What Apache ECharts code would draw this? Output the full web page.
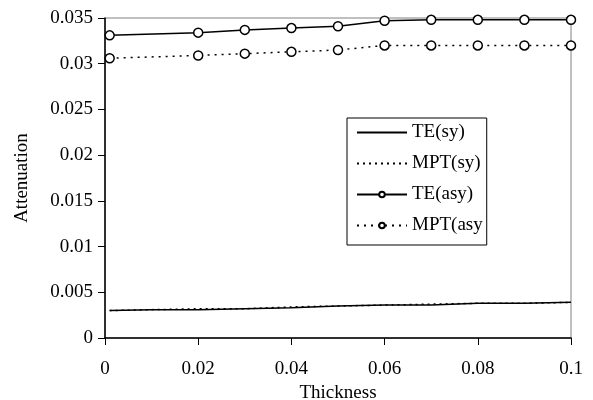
<!DOCTYPE html>
<html>
<head>
<meta charset="utf-8">
<script src="https://cdn.jsdelivr.net/npm/echarts@6/dist/echarts.min.js"></script>
<style>html,body{margin:0;padding:0;background:#fff}#c{width:593px;height:400px}</style>
</head>
<body>
<div id="c"></div>
<script>
var xSym = [0.001, 0.01, 0.02, 0.03, 0.04, 0.05, 0.06, 0.07, 0.08, 0.09, 0.1];
var teSy = [0.0030, 0.0031, 0.0031, 0.0032, 0.0033, 0.0035, 0.0036, 0.0036, 0.0038, 0.0038, 0.0039];
var mptSy = [0.0030, 0.0031, 0.0032, 0.0032, 0.0034, 0.0035, 0.0036, 0.0037, 0.0038, 0.0038, 0.0039];
var xAsy = [0.001, 0.02, 0.03, 0.04, 0.05, 0.06, 0.07, 0.08, 0.09, 0.1];
var teAsy = [0.0331, 0.0334, 0.0337, 0.0339, 0.0341, 0.0347, 0.0348, 0.0348, 0.0348, 0.0348];
var mptAsy = [0.0306, 0.0309, 0.0311, 0.0313, 0.0315, 0.0320, 0.0320, 0.0320, 0.0320, 0.0320];
var names = ['TE(sy)', 'MPT(sy)', 'TE(asy)', 'MPT(asy'];

function pairs(xs, ys) { return xs.map(function (x, i) { return [x, ys[i]]; }); }
var font = 'Liberation Serif, Times New Roman, serif';
var fs = 19;
var chart = echarts.init(document.getElementById('c'));
var lineBase = { type: 'line', animation: false };
var hiddenSym = { color: 'rgba(0,0,0,0)', borderColor: 'rgba(0,0,0,0)', borderWidth: 0 };
chart.setOption({
  animation: false,
  grid: { left: 105, right: 22, top: 18, bottom: 62, outerBoundsMode: 'none', containLabel: false, show: true, borderColor: '#808080', borderWidth: 1, backgroundColor: '#fff' },
  xAxis: {
    type: 'value', min: 0, max: 0.1, interval: 0.02,
    name: 'Thickness', nameLocation: 'middle', nameGap: 42,
    nameTextStyle: { fontFamily: font, fontSize: fs, color: '#000' },
    axisLine: { onZero: false, lineStyle: { color: '#000', width: 1.5 } },
    axisTick: { show: true, length: 7, lineStyle: { color: '#000' } },
    axisLabel: { fontFamily: font, fontSize: fs, color: '#000', margin: 22 },
    splitLine: { show: false }
  },
  yAxis: {
    type: 'value', min: 0, max: 0.035, interval: 0.005,
    name: 'Attenuation', nameLocation: 'middle', nameGap: 73,
    nameTextStyle: { fontFamily: font, fontSize: fs, color: '#000' },
    axisLine: { show: true, onZero: false, lineStyle: { color: '#000', width: 1.5 } },
    axisTick: { show: true, length: 7, lineStyle: { color: '#000' } },
    axisLabel: { fontFamily: font, fontSize: fs, color: '#000', margin: 12 },
    splitLine: { show: false }
  },
  legend: {
    orient: 'vertical', left: 347, top: 118,
    data: [
      { name: names[0], itemStyle: hiddenSym },
      { name: names[1], itemStyle: hiddenSym },
      { name: names[2] },
      { name: names[3] }
    ],
    itemWidth: 50, itemHeight: 7, itemGap: 12,
    padding: [5, 4, 10, 9],
    borderColor: '#000', borderWidth: 1, borderRadius: 0,
    backgroundColor: '#fff',
    textStyle: { fontFamily: font, fontSize: fs, color: '#000' }
  },
  series: [
    Object.assign({}, lineBase, { name: names[0], data: pairs(xSym, teSy), symbol: 'none', lineStyle: { color: '#000', width: 1.5, type: 'solid' }, itemStyle: { color: '#000' } }),
    Object.assign({}, lineBase, { name: names[1], data: pairs(xSym, mptSy), symbol: 'none', lineStyle: { color: '#000', width: 1.5, type: [2, 4] }, itemStyle: { color: '#000' } }),
    Object.assign({}, lineBase, { name: names[2], data: pairs(xAsy, teAsy), symbol: 'circle', symbolSize: 9, lineStyle: { color: '#000', width: 1.5, type: 'solid' }, itemStyle: { color: '#fff', borderColor: '#000', borderWidth: 1.5 } }),
    Object.assign({}, lineBase, { name: names[3], data: pairs(xAsy, mptAsy), symbol: 'circle', symbolSize: 9, lineStyle: { color: '#000', width: 1.5, type: [2, 5] }, itemStyle: { color: '#fff', borderColor: '#000', borderWidth: 1.5 } })
  ]
});
</script>
</body>
</html>
